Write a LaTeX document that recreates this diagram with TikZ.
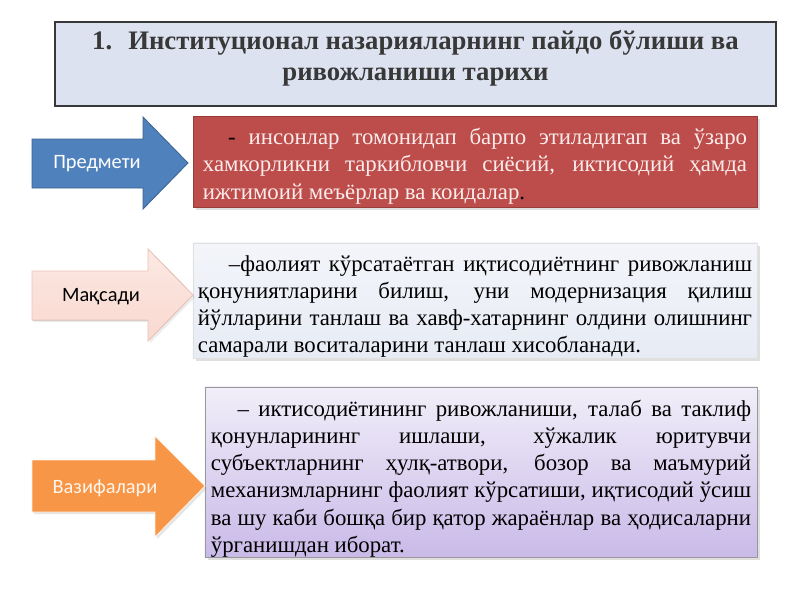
\documentclass[tikz,border=0pt]{standalone}
\usepackage{fontspec}
\setmainfont{Liberation Serif}
\newfontfamily\labelfont{Carlito}
\usetikzlibrary{shadows}
\definecolor{titlefill}{HTML}{DCE2EF}
\definecolor{titletext}{HTML}{383838}
\definecolor{redfill}{HTML}{BD4D4A}
\definecolor{redtext}{HTML}{FBECEC}
\definecolor{greytop}{HTML}{F3F5FA}
\definecolor{greybottom}{HTML}{E7EBF4}
\definecolor{lavtop}{HTML}{F1EEF9}
\definecolor{lavbottom}{HTML}{C9BAE8}
\definecolor{bluefill}{HTML}{4F81BD}
\definecolor{blueline}{HTML}{3A6391}
\definecolor{pinkfill}{HTML}{F9D9D0}
\definecolor{pinkline}{HTML}{EBC3B8}
\definecolor{orangefill}{HTML}{F79646}
\tikzset{%
  % boxes behind the texts
       base/.style = {rectangle, draw,
                      drop shadow={shadow xshift=2pt, shadow yshift=-2pt, opacity=0.25}},
   titlebox/.style = {rectangle, draw=titletext, line width=1.2pt, fill=titlefill,
                      minimum width=18.025cm, minimum height=2.1cm},
     redbox/.style = {base, draw=redfill!80!black, fill=redfill,
                      minimum width=14.1cm, minimum height=2.275cm},
    greybox/.style = {base, draw=black!12, top color=greytop, bottom color=greybottom,
                      minimum width=14.1cm, minimum height=2.875cm},
  violetbox/.style = {base, draw=black!40, top color=lavtop, bottom color=lavbottom,
                      minimum width=13.8cm, minimum height=4.25cm},
  % texts
  titletext/.style = {align=center, text=titletext, inner sep=0pt,
                      font=\fontsize{19}{22}\selectfont\bfseries},
   bodytext/.style = {align=justify, inner sep=0pt,
                      font=\fontsize{16.2}{19.4}\selectfont},
  % arrows on the left
  arrowlabel/.style = {font=\labelfont\fontsize{14.5}{16}\selectfont},
}
\begin{document}
\begin{tikzpicture}[x=0.025cm, y=-0.025cm]
  \useasboundingbox (0,0) rectangle (800,600);
  \fill[white] (0,0) rectangle (800,600);
  % Title
  \node (titlebox) [titlebox] at (415.5,64) {};
  \node (title) [titletext] at (415.5,58)
    {1.\hspace{0.6em}Институционал назарияларнинг пайдо бўлиши ва\\ривожланиши тарихи};
  % Boxes with the texts
  \node (subjectbox) [redbox] at (475,161.5) {};
  \node (subjecttext) [bodytext, text=redtext, text width=13.6cm] at (475,166)
    {\hspace*{18pt}\textcolor{black}{-} инсонлар томонидап барпо этиладигап ва ўзаро\linebreak
     хамкорликни таркибловчи сиёсий, иктисодий ҳамда\linebreak
     ижтимоий меъёрлар ва коидалар\textcolor{black}{.}};
  \node (aimbox) [greybox] at (475,300.5) {};
  \node (aimtext) [bodytext, text width=13.85cm] at (475,306.5)
    {\hspace*{22pt}–фаолият кўрсатаётган иқтисодиётнинг ривожланиш\linebreak
     қонуниятларини билиш, уни модернизация қилиш\linebreak
     йўлларини танлаш ва хавф-хатарнинг олдини олишнинг\linebreak
     самарали воситаларини танлаш хисобланади.};
  \node (taskbox) [violetbox] at (481,472) {};
  \node (tasktext) [bodytext, text width=13.5cm] at (481,478.5)
    {\hspace*{19pt}– иктисодиётининг ривожланиши, талаб ва таклиф\linebreak
     қонунларининг ишлаши, хўжалик юритувчи\linebreak
     субъектларнинг ҳулқ-атвори, бозор ва маъмурий\linebreak
     механизмларнинг фаолият кўрсатиши, иқтисодий ўсиш\linebreak
     ва шу каби бошқа бир қатор жараёнлар ва ҳодисаларни\linebreak
     ўрганишдан иборат.};
  % Arrows
  \filldraw[fill=bluefill, draw=blueline, line width=0.6pt]
    (32,139) -- (143,139) -- (143,117) -- (188,163) -- (143,209) -- (143,188) -- (32,188) -- cycle;
  \node (subject) [arrowlabel, text=white] at (97,164) {Предмети};
  \filldraw[top color=pinkfill!60!white, bottom color=pinkfill, draw=pinkline, line width=0.6pt,
            drop shadow={shadow xshift=1.5pt, shadow yshift=-1.5pt, opacity=0.15}]
    (32,271) -- (148,271) -- (148,249) -- (193,295) -- (148,341) -- (148,320) -- (32,320) -- cycle;
  \node (aim) [arrowlabel, text=black] at (101,297) {Мақсади};
  \filldraw[fill=orangefill, draw=white!85!orangefill, line width=0.6pt,
            drop shadow={shadow xshift=1.5pt, shadow yshift=-1.5pt, opacity=0.2}]
    (32,460) -- (155,460) -- (155,436) -- (205,486) -- (155,537) -- (155,512) -- (32,512) -- cycle;
  \node (task) [arrowlabel, text=white!90!orangefill] at (105,488) {Вазифалари};
\end{tikzpicture}
\end{document}
